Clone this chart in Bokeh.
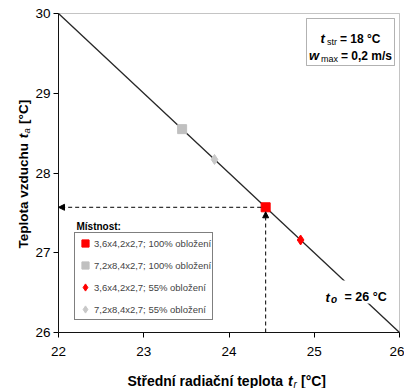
import math

from bokeh.embed import file_html
from bokeh.models import (Arrow, BoxAnnotation, FixedTicker, Label, Legend,
                          LegendItem, NormalHead, Range1d)
from bokeh.plotting import figure
from bokeh.resources import INLINE

# Line of constant operative temperature t_o = 26 °C  (t_a + t_r = 2 * t_o)
line_tr = [22.0, 26.0]
line_ta = [30.0, 26.0]

# Rooms: dimensions and share of the chilled ceiling
room_labels = [
    "3,6x4,2x2,7; 100% obložení",
    "7,2x8,4x2,7; 100% obložení",
    "3,6x4,2x2,7; 55% obložení",
    "7,2x8,4x2,7; 55% obložení",
]
room_tr = [24.43, 23.45, 24.84, 23.83]
room_ta = [27.57, 28.55, 27.16, 28.17]

x_ticks = [22, 23, 24, 25, 26]
y_ticks = [26, 27, 28, 29, 30]

# marker, colour, size
room_styles = [
    ("square", "#ff0000", 9),
    ("square", "#c0c0c0", 9),
    ("diamond", "#ff0000", 10),
    ("diamond", "#c8c8c8", 10),
]

W, H = 404, 388
# pixel box of the plotting area inside the canvas
FL, FR, FT, FB = 58, 399, 13, 332
XS = (FR - FL) / (x_ticks[-1] - x_ticks[0])
YS = (FB - FT) / (y_ticks[-1] - y_ticks[0])
FONT = "Liberation Sans"


def dx(px):
    return x_ticks[0] + (px - FL) / XS


def dy(py):
    return y_ticks[-1] - (py - FT) / YS


# the frame spans the whole canvas; axes are pinned to the plotting area
p = figure(
    width=W, height=H,
    x_range=Range1d(dx(0), dx(W)),
    y_range=Range1d(dy(H), dy(0)),
    output_backend="svg", toolbar_location=None,
    min_border=0, min_border_left=0, min_border_right=0,
    min_border_top=0, min_border_bottom=0,
)
p.title.visible = False
p.background_fill_color = "white"
p.border_fill_color = "white"
p.outline_line_color = None
p.xgrid.visible = False
p.ygrid.visible = False

p.xaxis.ticker = FixedTicker(ticks=x_ticks)
p.yaxis.ticker = FixedTicker(ticks=y_ticks)
p.xaxis.fixed_location = y_ticks[0]
p.yaxis.fixed_location = x_ticks[0]
p.xaxis.bounds = (x_ticks[0], x_ticks[-1])
p.yaxis.bounds = (y_ticks[0], y_ticks[-1])
for ax in (p.xaxis, p.yaxis):
    ax.axis_line_color = "black"
    ax.major_tick_line_color = "black"
    ax.minor_tick_line_color = None
    ax.major_tick_in = 0
    ax.major_tick_out = 5
    ax.major_label_text_font = FONT
    ax.major_label_text_font_size = "13.5px"
    ax.major_label_text_color = "black"
p.xaxis.major_label_standoff = 9
p.yaxis.major_label_standoff = 3

# border of the plotting area
p.add_layout(BoxAnnotation(left=x_ticks[0], right=x_ticks[-1],
                           bottom=y_ticks[0], top=y_ticks[-1],
                           fill_alpha=0, line_color="#3a3a3a", line_width=1))

# the t_o line
p.line(line_tr, line_ta, line_color="#262626", line_width=1.3)

# dashed read-off arrows from the first room
sq_tr, sq_ta = room_tr[0], room_ta[0]
half = 4.5
p.add_layout(Arrow(
    end=NormalHead(size=6, fill_color="black", line_color="black"),
    x_start=sq_tr - half / XS, y_start=sq_ta, x_end=x_ticks[0], y_end=sq_ta,
    line_dash="4 3", line_width=1, line_color="black"))
p.add_layout(Arrow(
    end=NormalHead(size=6, fill_color="black", line_color="black"),
    x_start=sq_tr, y_start=y_ticks[0], x_end=sq_tr, y_end=sq_ta - half / YS,
    line_dash="4 3", line_width=1, line_color="black"))

renderers = []
for i, (marker, color, size) in enumerate(room_styles):
    r = p.scatter([room_tr[i]], [room_ta[i]], marker=marker, size=size,
                  fill_color=color, line_color=color)
    renderers.append(r)

legend = Legend(
    items=[LegendItem(label=room_labels[i], renderers=[renderers[i]])
           for i in range(len(room_labels))],
    location=(74, H - 320),
    label_text_font=FONT, label_text_font_size="9.5px",
    glyph_width=18, glyph_height=18, label_height=18,
    spacing=4, padding=1, margin=0, label_standoff=0,
    border_line_color="black", border_line_width=1,
    background_fill_color="white", background_fill_alpha=1,
)
p.add_layout(legend)


def txt(px, py, s, size, style="bold", angle=0.0):
    p.add_layout(Label(
        x=dx(px), y=dy(py), text=s, text_font=FONT,
        text_font_size=f"{size}px", text_font_style=style,
        text_align="left", text_baseline="alphabetic",
        angle=angle, text_color="black"))


# legend heading
txt(76, 225.5, "Místnost:", 10)

# gap in the t_o line for its label
p.add_layout(BoxAnnotation(left=dx(333), right=dx(392), top=dy(280), bottom=dy(303),
                           fill_color="white", fill_alpha=1, line_alpha=0))
txt(325, 296.5, "t", 13, "bold italic")
txt(330.5, 298.5, "o", 10, "bold italic")
txt(344, 296, "= 26 °C", 12.5)

# boundary conditions box
p.add_layout(BoxAnnotation(left=dx(306), right=dx(394), top=dy(18), bottom=dy(65),
                           fill_color="white", fill_alpha=1,
                           line_color="black", line_width=1))
txt(320, 38, "t", 13, "bold italic")
txt(326.5, 41, "str", 9, "normal")
txt(339.5, 38, "= 18 °C", 12)
txt(308.5, 55, "w", 13, "bold italic")
txt(320.5, 58, "max", 9, "normal")
txt(340.5, 55, "= 0,2 m/s", 12)

# x axis title
txt(127, 380.5, "Střední radiační teplota ", 14)
txt(287.5, 380.5, "t", 14, "bold italic")
txt(293, 383.5, "r", 10, "italic")
txt(300.5, 380.5, " [°C]", 14)

# y axis title (rotated)
rot = math.pi / 2
txt(23, 248, "Teplota vzduchu ", 13.5, "bold", rot)
txt(23, 137.7, "t", 13.5, "bold italic", rot)
txt(26, 133, "a", 9.5, "italic", rot)
txt(23, 123.5, " [°C]", 13.5, "bold", rot)

open("out.html", "w").write(file_html(p, INLINE))
